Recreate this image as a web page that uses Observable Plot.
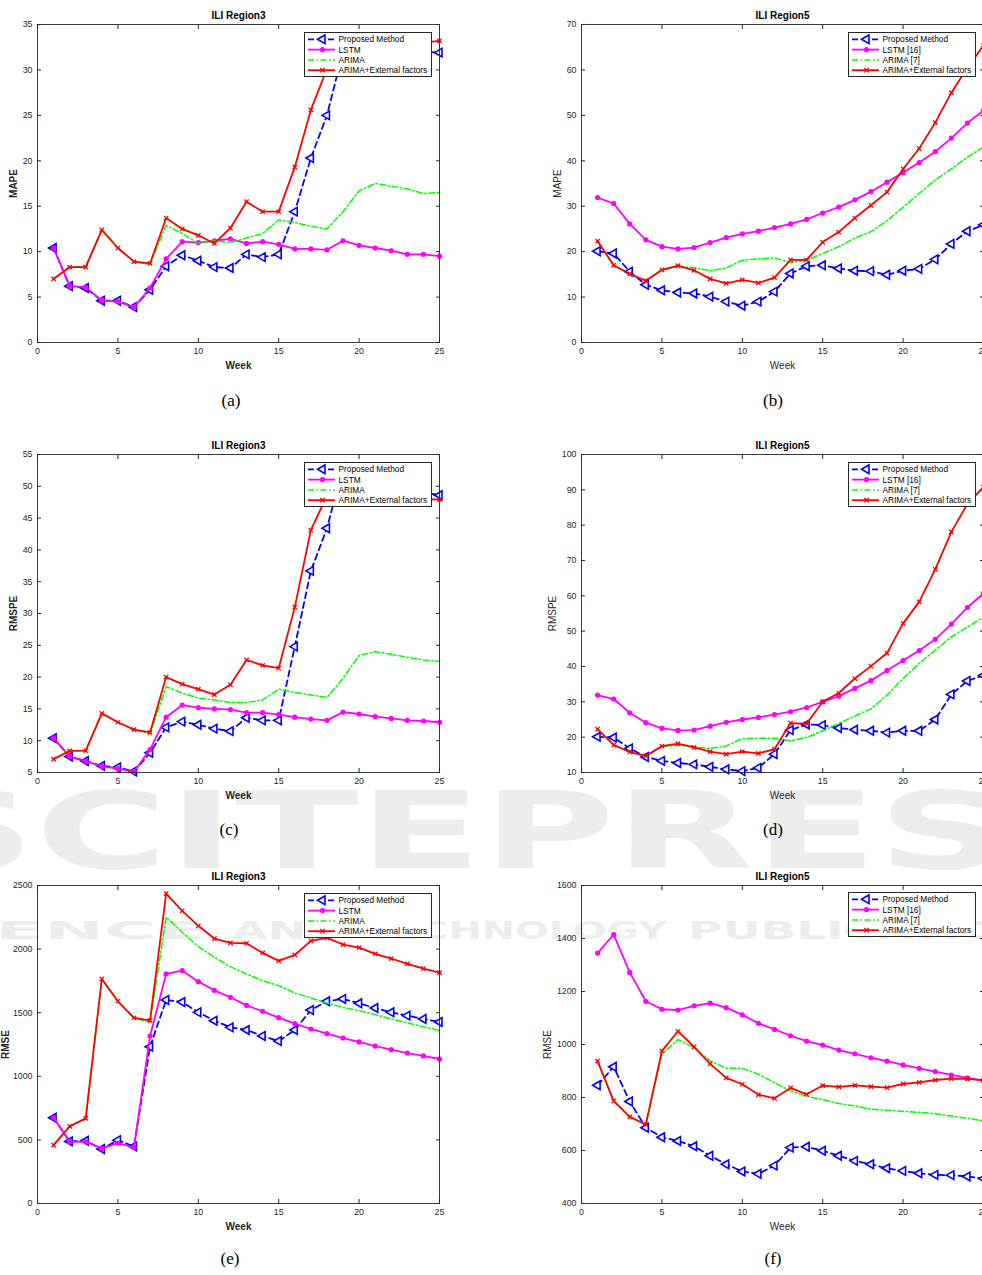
<!DOCTYPE html>
<html>
<head>
<meta charset="utf-8">
<script src="https://cdn.jsdelivr.net/npm/d3@7"></script>
<script src="https://cdn.jsdelivr.net/npm/@observablehq/plot@0.6"></script>
<style>
html, body { margin: 0; padding: 0; background: #fff; overflow: hidden; width: 982px; height: 1275px; }
#page { position: relative; width: 982px; height: 1275px; overflow: hidden; font-family: "Liberation Sans", Arial, sans-serif; }
.panel { position: absolute; width: 445px; height: 372px; }
.panel > svg { max-width: none !important; }
.legend { position: absolute; }
.cap { position: absolute; font-family: "Liberation Serif", "Times New Roman", serif; font-size: 17px; color: #000; transform: translate(-50%, -50%); line-height: 1; }
#wm { position: absolute; left: 0; top: 0; }
</style>
</head>
<body>
<div id="page"></div>
<script>
// ---------- data ----------
const weeks = [1,2,3,4,5,6,7,8,9,10,11,12,13,14,15,16,17,18,19,20,21,22,23,24,25];
const xTicks = [0,5,10,15,20,25];

// (a) MAPE, ILI Region3
const mapeR3Proposed = [10.4,6.2,6.0,4.6,4.6,3.9,5.8,8.4,9.6,9.0,8.3,8.2,9.7,9.4,9.7,14.4,20.3,25.0,32.0,33.0,33.0,32.5,32.3,32.0,31.9];
const mapeR3Lstm     = [10.4,6.2,6.1,4.6,4.5,3.9,6.0,9.2,11.1,11.0,11.2,11.4,10.9,11.1,10.8,10.3,10.3,10.2,11.2,10.7,10.4,10.1,9.7,9.7,9.5];
const mapeR3Arima    = [7.0,8.3,8.4,12.4,10.4,8.9,8.6,12.9,12.0,10.9,11.2,11.0,11.5,12.0,13.5,13.2,12.8,12.5,14.4,16.7,17.5,17.2,16.9,16.4,16.5];
const mapeR3Ext      = [7.0,8.3,8.3,12.4,10.4,8.9,8.7,13.7,12.5,11.8,10.9,12.6,15.5,14.4,14.4,19.3,25.6,30.1,31.5,32.5,33.0,33.2,33.1,33.0,33.2];
const mapeR3Ticks    = [0,5,10,15,20,25,30,35];

// (b) MAPE, ILI Region5
const mapeR5Proposed = [20.1,19.6,15.6,12.7,11.5,11.0,10.8,10.1,9.0,8.1,9.0,11.2,15.2,16.8,17.0,16.3,15.8,15.7,14.9,15.8,16.2,18.3,21.7,24.5,25.9];
const mapeR5Lstm     = [31.9,30.6,26.1,22.6,21.1,20.6,20.9,22.0,23.1,23.9,24.5,25.3,26.1,27.1,28.5,29.8,31.4,33.2,35.3,37.4,39.6,42.0,45.0,48.3,51.1];
const mapeR5Arima    = [22.3,17.0,15.1,13.6,15.9,16.7,16.5,15.8,16.4,18.1,18.4,18.6,17.6,18.1,19.6,21.1,23.0,24.4,26.8,29.8,32.8,35.8,38.2,40.8,43.0];
const mapeR5Ext      = [22.3,17.0,15.1,13.6,16.0,16.9,15.9,14.0,13.0,13.8,13.1,14.3,18.2,18.2,22.1,24.3,27.4,30.2,33.1,38.2,42.7,48.4,55.0,60.5,65.4];
const mapeR5Ticks    = [0,10,20,30,40,50,60,70];

// (c) RMSPE, ILI Region3
const rmspeR3Proposed = [10.4,7.5,6.8,6.05,5.8,5.15,8.1,12.1,13.0,12.5,11.9,11.5,13.6,13.2,13.2,24.8,36.7,43.4,53.0,52.0,51.0,50.3,49.6,49.1,48.6];
const rmspeR3Lstm     = [10.4,7.5,6.8,5.95,5.6,5.15,8.6,13.7,15.6,15.2,15.0,14.9,14.4,14.4,14.1,13.7,13.4,13.2,14.5,14.2,13.8,13.5,13.2,13.1,12.9];
const rmspeR3Arima    = [7.1,8.4,8.45,14.3,12.9,11.75,11.1,18.5,17.5,16.7,16.4,16.0,16.0,16.4,18.1,17.6,17.2,16.8,19.8,23.4,24.0,23.6,23.1,22.7,22.5];
const rmspeR3Ext      = [7.1,8.4,8.45,14.3,12.9,11.75,11.3,20.0,18.9,18.1,17.25,18.8,22.7,21.85,21.4,31.0,43.1,48.5,49.2,49.0,48.7,48.4,48.2,48.0,47.9];
const rmspeR3Ticks    = [5,10,15,20,25,30,35,40,45,50,55];

// (d) RMSPE, ILI Region5
const rmspeR5Proposed = [20.1,19.9,16.8,14.4,13.3,12.7,12.3,11.6,10.9,10.4,11.3,15.2,22.0,23.6,23.4,22.6,22.1,21.8,21.3,21.8,21.8,25.0,32.1,35.9,37.5];
const rmspeR5Lstm     = [31.9,30.8,26.9,24.1,22.5,21.9,22.0,23.1,24.2,25.0,25.6,26.4,27.2,28.4,30.0,31.6,33.8,36.0,38.9,41.7,44.5,47.7,52.0,56.7,60.7];
const rmspeR5Arima    = [22.3,17.8,15.8,14.7,17.3,17.7,17.3,16.8,17.5,19.6,19.7,19.7,19.0,19.9,21.8,23.9,26.0,28.0,31.9,36.6,40.9,44.6,48.4,51.2,53.9];
const rmspeR5Ext      = [22.3,17.8,15.8,14.7,17.45,18.2,17.1,15.9,15.2,15.9,15.4,16.6,24.0,23.8,30.0,32.5,36.6,40.1,43.8,52.2,58.3,67.5,78.1,86.0,90.8];
const rmspeR5Ticks    = [10,20,30,40,50,60,70,80,90,100];

// (e) RMSE, ILI Region3
const rmseR3Proposed = [674,488,493,428,498,449,1233,1600,1584,1503,1437,1385,1364,1317,1277,1364,1521,1590,1608,1574,1537,1503,1477,1451,1427];
const rmseR3Lstm     = [674,485,485,433,475,441,1317,1805,1831,1744,1676,1621,1558,1511,1461,1414,1372,1335,1301,1270,1238,1209,1183,1160,1136];
const rmseR3Arima    = [459,606,669,1765,1590,1459,1424,2251,2133,2020,1936,1862,1805,1752,1713,1655,1616,1574,1542,1516,1485,1451,1420,1390,1359];
const rmseR3Ext      = [459,606,669,1765,1590,1459,1440,2437,2301,2183,2083,2049,2046,1970,1907,1954,2065,2088,2036,2012,1962,1926,1884,1847,1815];
const rmseR3Ticks    = [0,500,1000,1500,2000,2500];

// (f) RMSE, ILI Region5
const rmseR5Proposed = [846,916,785,686,650,636,616,580,548,521,512,543,611,614,599,580,561,548,533,523,514,508,507,502,494];
const rmseR5Lstm     = [1345,1415,1272,1163,1133,1130,1146,1156,1139,1112,1080,1057,1033,1013,998,979,965,950,937,923,910,898,885,874,864];
const rmseR5Arima    = [937,787,727,698,963,1019,988,938,910,910,888,856,825,805,792,777,768,756,752,748,744,739,730,722,712];
const rmseR5Ext      = [937,787,727,698,976,1050,991,927,874,850,811,797,836,812,845,840,846,841,837,851,857,866,871,870,865];
const rmseR5Ticks    = [400,600,800,1000,1200,1400,1600];

const legendR3 = ["Proposed Method", "LSTM", "ARIMA", "ARIMA+External factors"];
const legendR5 = ["Proposed Method", "LSTM [16]", "ARIMA [7]", "ARIMA+External factors"];
const titles = ["ILI Region3", "ILI Region5"];
const captions = ["(a)", "(b)", "(c)", "(d)", "(e)", "(f)"];
const watermarkBig = "SCITEPRESS";
const watermarkWords = ["SCIENCE", "AND", "TECHNOLOGY", "PUBLICATIONS"];

// ---------- styles ----------
const BLUE = "#0000ff", MAGENTA = "#ff00ff", GREEN = "#00ff00", RED = "#ff0000", AXIS = "#262626";
const seriesStyles = [
  {stroke: BLUE, dash: "6,4", width: 1.8, marker: "triangle"},
  {stroke: MAGENTA, dash: null, width: 1.8, marker: "circle"},
  {stroke: GREEN, dash: "6,2.5,1.5,2.5", width: 1.5, marker: null},
  {stroke: RED, dash: null, width: 1.8, marker: "times"}
];

const page = document.getElementById("page");

// watermark (behind everything)
(function watermark() {
  const svg = d3.select(page).append("svg").attr("id", "wm").attr("width", 982).attr("height", 1275);
  const g = svg.append("g").attr("fill", "#ededed").attr("font-family", "DejaVu Sans, sans-serif").attr("font-weight", "bold");
  g.append("text").attr("x", -95).attr("y", 868).attr("font-size", 107)
    .attr("textLength", 1225).attr("lengthAdjust", "spacingAndGlyphs").text(watermarkBig);
  const pos = [[-135, 340], [232, 113], [365, 302], [688, 385]];
  watermarkWords.forEach((w, i) => {
    g.append("text").attr("x", pos[i][0]).attr("y", 939).attr("font-size", 25)
      .attr("textLength", pos[i][1]).attr("lengthAdjust", "spacingAndGlyphs").text(w);
  });
})();

function seriesMarks(values, st) {
  const data = weeks.map((w, i) => ({week: w, value: values[i]}));
  const marks = [Plot.line(data, {x: "week", y: "value", stroke: st.stroke, strokeWidth: st.width, strokeDasharray: st.dash})];
  if (st.marker === "triangle") marks.push(Plot.dot(data, {x: "week", y: "value", symbol: "triangle", r: 3.2, rotate: -90, stroke: st.stroke, strokeWidth: 1.6, fill: "white"}));
  if (st.marker === "circle") marks.push(Plot.dot(data, {x: "week", y: "value", symbol: "circle", r: 2.6, fill: st.stroke, stroke: "none"}));
  if (st.marker === "times") marks.push(Plot.dot(data, {x: "week", y: "value", symbol: "times", r: 2.1, stroke: st.stroke, strokeWidth: 1.3}));
  return marks;
}

function makeLegend(labels) {
  const w = 128, h = 45;
  const svg = d3.create("svg").attr("class", "legend").attr("width", w).attr("height", h);
  svg.append("rect").attr("x", 0.5).attr("y", 0.5).attr("width", w - 1).attr("height", h - 1).attr("fill", "#fff").attr("stroke", AXIS).attr("stroke-width", 1);
  labels.forEach((lab, i) => {
    const st = seriesStyles[i];
    const y = 7.3 + i * 10.3;
    svg.append("line").attr("x1", 4).attr("x2", 31).attr("y1", y).attr("y2", y)
      .attr("stroke", st.stroke).attr("stroke-width", st.width).attr("stroke-dasharray", st.dash);
    const cx = 18.5;
    if (st.marker === "triangle") svg.append("path").attr("d", d3.symbol(d3.symbolTriangle, 32)()).attr("transform", `translate(${cx},${y}) rotate(-90)`).attr("fill", "#fff").attr("stroke", st.stroke).attr("stroke-width", 1.6);
    if (st.marker === "circle") svg.append("circle").attr("cx", cx).attr("cy", y).attr("r", 2.6).attr("fill", st.stroke);
    if (st.marker === "times") svg.append("path").attr("d", d3.symbol(d3.symbolTimes, 14)()).attr("transform", `translate(${cx},${y})`).attr("fill", "none").attr("stroke", st.stroke).attr("stroke-width", 1.3);
    svg.append("text").attr("x", 34.5).attr("y", y).attr("dy", "0.35em").attr("font-size", 8.3).attr("fill", "#000")
      .attr("font-family", "Liberation Sans, Arial, sans-serif").text(lab);
  });
  return svg.node();
}

function panel({left, top, title, ylabel, labelBold, ylabelDx, ticks, series, legend, caption, capX, capY}) {
  const div = document.createElement("div");
  div.className = "panel";
  div.style.left = left + "px";
  div.style.top = top + "px";
  const fmt = d => String(d);
  const marks = [
    Plot.axisX({ticks: xTicks, tickSize: -4, tickPadding: 9.5, tickFormat: fmt, label: null, fill: AXIS, stroke: AXIS}),
    Plot.axisX({anchor: "top", ticks: xTicks, tickSize: -4, tickFormat: () => "", label: null, stroke: AXIS}),
    Plot.axisY({ticks, tickSize: -4, tickPadding: 9, tickFormat: fmt, label: null, fill: AXIS, stroke: AXIS}),
    Plot.axisY({anchor: "right", ticks, tickSize: -4, tickFormat: () => "", label: null, stroke: AXIS}),
  ];
  series.forEach((vals, i) => marks.push(...seriesMarks(vals, seriesStyles[i])));
  marks.push(
    Plot.frame({stroke: AXIS, strokeWidth: 0.9}),
    Plot.text([title], {text: d => d, frameAnchor: "top", dy: -8.5, lineAnchor: "middle", textAnchor: "middle", fontWeight: "bold", fontSize: 10, fill: "#000"}),
    Plot.text([ylabel], {text: d => d, frameAnchor: "left", dx: ylabelDx, rotate: -90, lineAnchor: "middle", textAnchor: "middle", fontWeight: labelBold ? "bold" : "normal", fontSize: 10, fill: AXIS}),
    Plot.text(["Week"], {text: d => d, frameAnchor: "bottom", dy: 23.5, lineAnchor: "middle", textAnchor: "middle", fontWeight: labelBold ? "bold" : "normal", fontSize: 10, fill: AXIS})
  );
  const chart = Plot.plot({
    width: 445, height: 372,
    marginLeft: 37, marginRight: 6, marginTop: 24, marginBottom: 30,
    style: {background: "transparent", fontFamily: "Liberation Sans, Arial, sans-serif", fontSize: "8.8px", color: AXIS, overflow: "visible", maxWidth: "none"},
    x: {domain: [0, 25]},
    y: {domain: [ticks[0], ticks[ticks.length - 1]]},
    marks
  });
  chart.style.maxWidth = "none";
  div.appendChild(chart);
  const lg = makeLegend(legend);
  lg.style.left = (left === 0 ? 303.5 : 304.3) + "px";
  lg.style.top = "31.5px";
  div.appendChild(lg);
  page.appendChild(div);
  const cap = document.createElement("div");
  cap.className = "cap";
  cap.style.left = capX + "px";
  cap.style.top = capY + "px";
  cap.textContent = caption;
  page.appendChild(cap);
}

panel({left: 0, top: 0, title: titles[0], ylabel: "MAPE", labelBold: true, ylabelDx: -24, ticks: mapeR3Ticks,
  series: [mapeR3Proposed, mapeR3Lstm, mapeR3Arima, mapeR3Ext], legend: legendR3, caption: captions[0], capX: 231, capY: 400});
panel({left: 544, top: 0, title: titles[1], ylabel: "MAPE", labelBold: false, ylabelDx: -24, ticks: mapeR5Ticks,
  series: [mapeR5Proposed, mapeR5Lstm, mapeR5Arima, mapeR5Ext], legend: legendR5, caption: captions[1], capX: 773, capY: 400});
panel({left: 0, top: 430.3, title: titles[0], ylabel: "RMSPE", labelBold: true, ylabelDx: -24, ticks: rmspeR3Ticks,
  series: [rmspeR3Proposed, rmspeR3Lstm, rmspeR3Arima, rmspeR3Ext], legend: legendR3, caption: captions[2], capX: 229, capY: 829});
panel({left: 544, top: 430.3, title: titles[1], ylabel: "RMSPE", labelBold: false, ylabelDx: -28.7, ticks: rmspeR5Ticks,
  series: [rmspeR5Proposed, rmspeR5Lstm, rmspeR5Arima, rmspeR5Ext], legend: legendR5, caption: captions[3], capX: 773, capY: 829});
panel({left: 0, top: 861, title: titles[0], ylabel: "RMSE", labelBold: true, ylabelDx: -31.6, ticks: rmseR3Ticks,
  series: [rmseR3Proposed, rmseR3Lstm, rmseR3Arima, rmseR3Ext], legend: legendR3, caption: captions[4], capX: 230, capY: 1258});
panel({left: 544, top: 860.5, title: titles[1], ylabel: "RMSE", labelBold: false, ylabelDx: -33.7, ticks: rmseR5Ticks,
  series: [rmseR5Proposed, rmseR5Lstm, rmseR5Arima, rmseR5Ext], legend: legendR5, caption: captions[5], capX: 773, capY: 1258});
</script>
</body>
</html>
